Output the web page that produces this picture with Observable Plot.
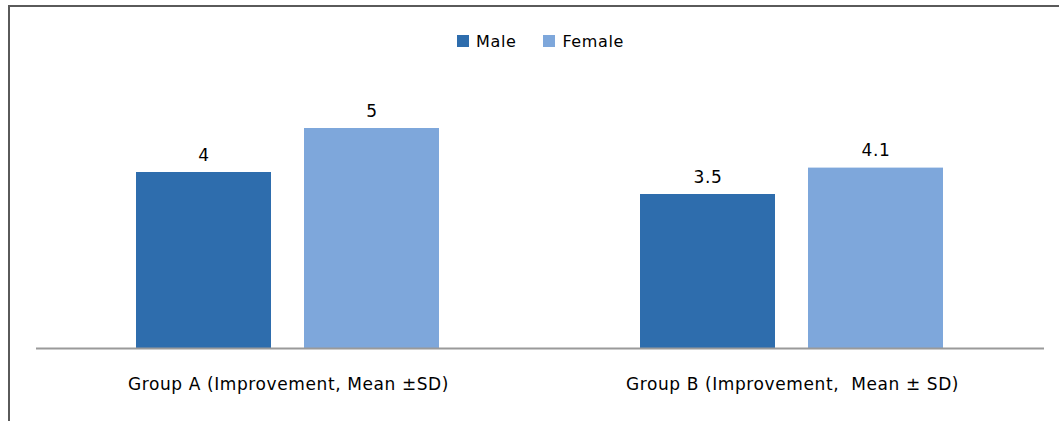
<!DOCTYPE html>
<html>
<head>
<meta charset="utf-8">
<script src="https://cdn.jsdelivr.net/npm/d3@7"></script>
<script src="https://cdn.jsdelivr.net/npm/@observablehq/plot@0.6"></script>
<style>
  body { margin: 0; background: #fff; font-family: "DejaVu Sans", sans-serif; }
  #wrap { position: relative; width: 1059px; height: 421px; overflow: hidden; background: #fff; }
  #frameTop { position: absolute; left: 8px; top: 5px; width: 1051px; height: 2px; background: #5a5a5a; }
  #frameLeft { position: absolute; left: 8px; top: 5px; width: 2px; height: 416px; background: #5a5a5a; }
  #legend { height: 60px; display: flex; align-items: center; justify-content: center; gap: 27px; padding-top: 22px; box-sizing: border-box; padding-left: 22px; font-size: 16px; letter-spacing: 0.6px; color: #000; }
  .item { display: flex; align-items: center; gap: 7px; }
  .sw { width: 12px; height: 12px; display: inline-block; }
  #chart svg { display: block; }
</style>
</head>
<body>
<div id="wrap">
  <div id="frameTop"></div>
  <div id="frameLeft"></div>
  <div id="legend"></div>
  <div id="chart"></div>
</div>
<script>
const groups = ["Group A (Improvement, Mean ±SD)", "Group B (Improvement,  Mean ± SD)"];
const sexes = ["Male", "Female"];
const colors = ["#2e6dad", "#7ea7db"];
const maleValues = [4, 3.5];
const femaleValues = [5, 4.1];

const data = [];
groups.forEach((g, i) => {
  data.push({group: g, sex: "Male", value: maleValues[i]});
  data.push({group: g, sex: "Female", value: femaleValues[i]});
});

const legend = document.getElementById("legend");
sexes.forEach((s, i) => {
  const item = document.createElement("span");
  item.className = "item";
  item.innerHTML = `<span class="sw" style="background:${colors[i]}"></span><span>${s}</span>`;
  legend.appendChild(item);
});

const chart = Plot.plot({
  width: 1059,
  height: 361,
  marginLeft: 36,
  marginRight: 15,
  marginTop: 24,
  marginBottom: 73,
  style: {fontFamily: "DejaVu Sans, sans-serif", fontSize: "17px", color: "#000", letterSpacing: "0.6px"},
  fx: {domain: groups, padding: 0, label: null, axis: "bottom", tickSize: 0, tickPadding: 29},
  x: {domain: sexes, paddingInner: 0.196, paddingOuter: 0.597, axis: null},
  y: {domain: [0, 6], axis: null},
  color: {domain: sexes, range: colors},
  marks: [
    Plot.barY(data, {fx: "group", x: "sex", y: "value", fill: "sex"}),
    Plot.ruleY([0], {stroke: "#9a9a9a", strokeWidth: 2}),
    Plot.text(data, {fx: "group", x: "sex", y: "value", text: d => String(d.value), lineAnchor: "bottom", dy: -12, fontSize: 17, fill: "#000"})
  ]
});
document.getElementById("chart").appendChild(chart);
</script>
</body>
</html>
